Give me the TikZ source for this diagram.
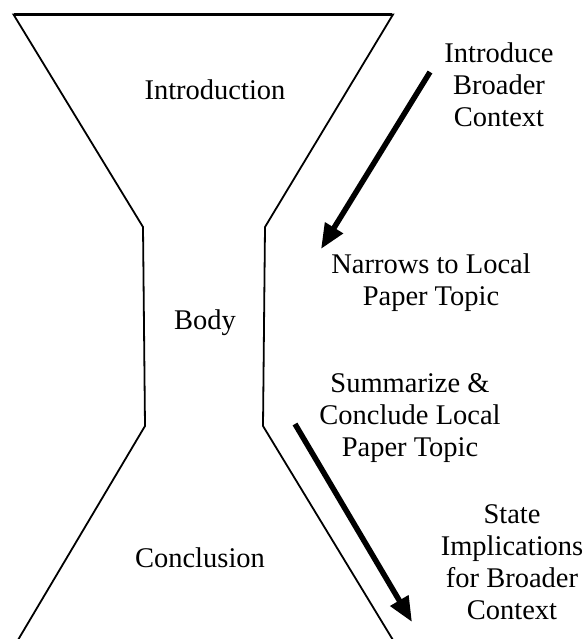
\documentclass[tikz,border=0pt]{standalone}
\usepackage{fontspec}
\setmainfont{Liberation Serif}
\usetikzlibrary{arrows.meta}
\begin{document}
\begin{tikzpicture}[x=1pt,y=-1pt,
  lbl/.style={inner sep=0pt,align=center,font=\fontsize{28.5}{32}\selectfont},
  funnel/.style={line width=1.8pt,line join=miter},
  bigarrow/.style={line width=5.5pt,-{Triangle[length=25pt,width=20pt]}}]
\useasboundingbox (0,0) rectangle (586,639);
\begin{scope}
\clip (0,0) rectangle (586,639);
\draw[funnel] (15,645) -- (145,426) -- (143,227) -- (13.5,14.5) -- (393,14.5) -- (265,227) -- (263,426) -- (396,645);
\draw[line width=3pt] (14,14.5) -- (392,14.5);
\end{scope}
\node[lbl] (intro) at (215,90) {Introduction};
\node[lbl] (body) at (205,323) {Body};
\node[lbl] (concl) at (200,558) {Conclusion};
\node[lbl] (ibc) at (499,85) {Introduce\\Broader\\Context};
\node[lbl] (nar) at (431,283) {Narrows to Local\\Paper Topic};
\node[lbl] (sum) at (410,418) {Summarize \&\\Conclude Local\\Paper Topic};
\node[lbl] (state) at (512,562) {State\\Implications\\for Broader\\Context};
\coordinate (a1s) at (430,72);
\coordinate (a1e) at (321,249);
\coordinate (a2s) at (295,424);
\coordinate (a2e) at (412,622);
\draw[bigarrow] (a1s) -- (a1e);
\draw[bigarrow] (a2s) -- (a2e);
\end{tikzpicture}
\end{document}
